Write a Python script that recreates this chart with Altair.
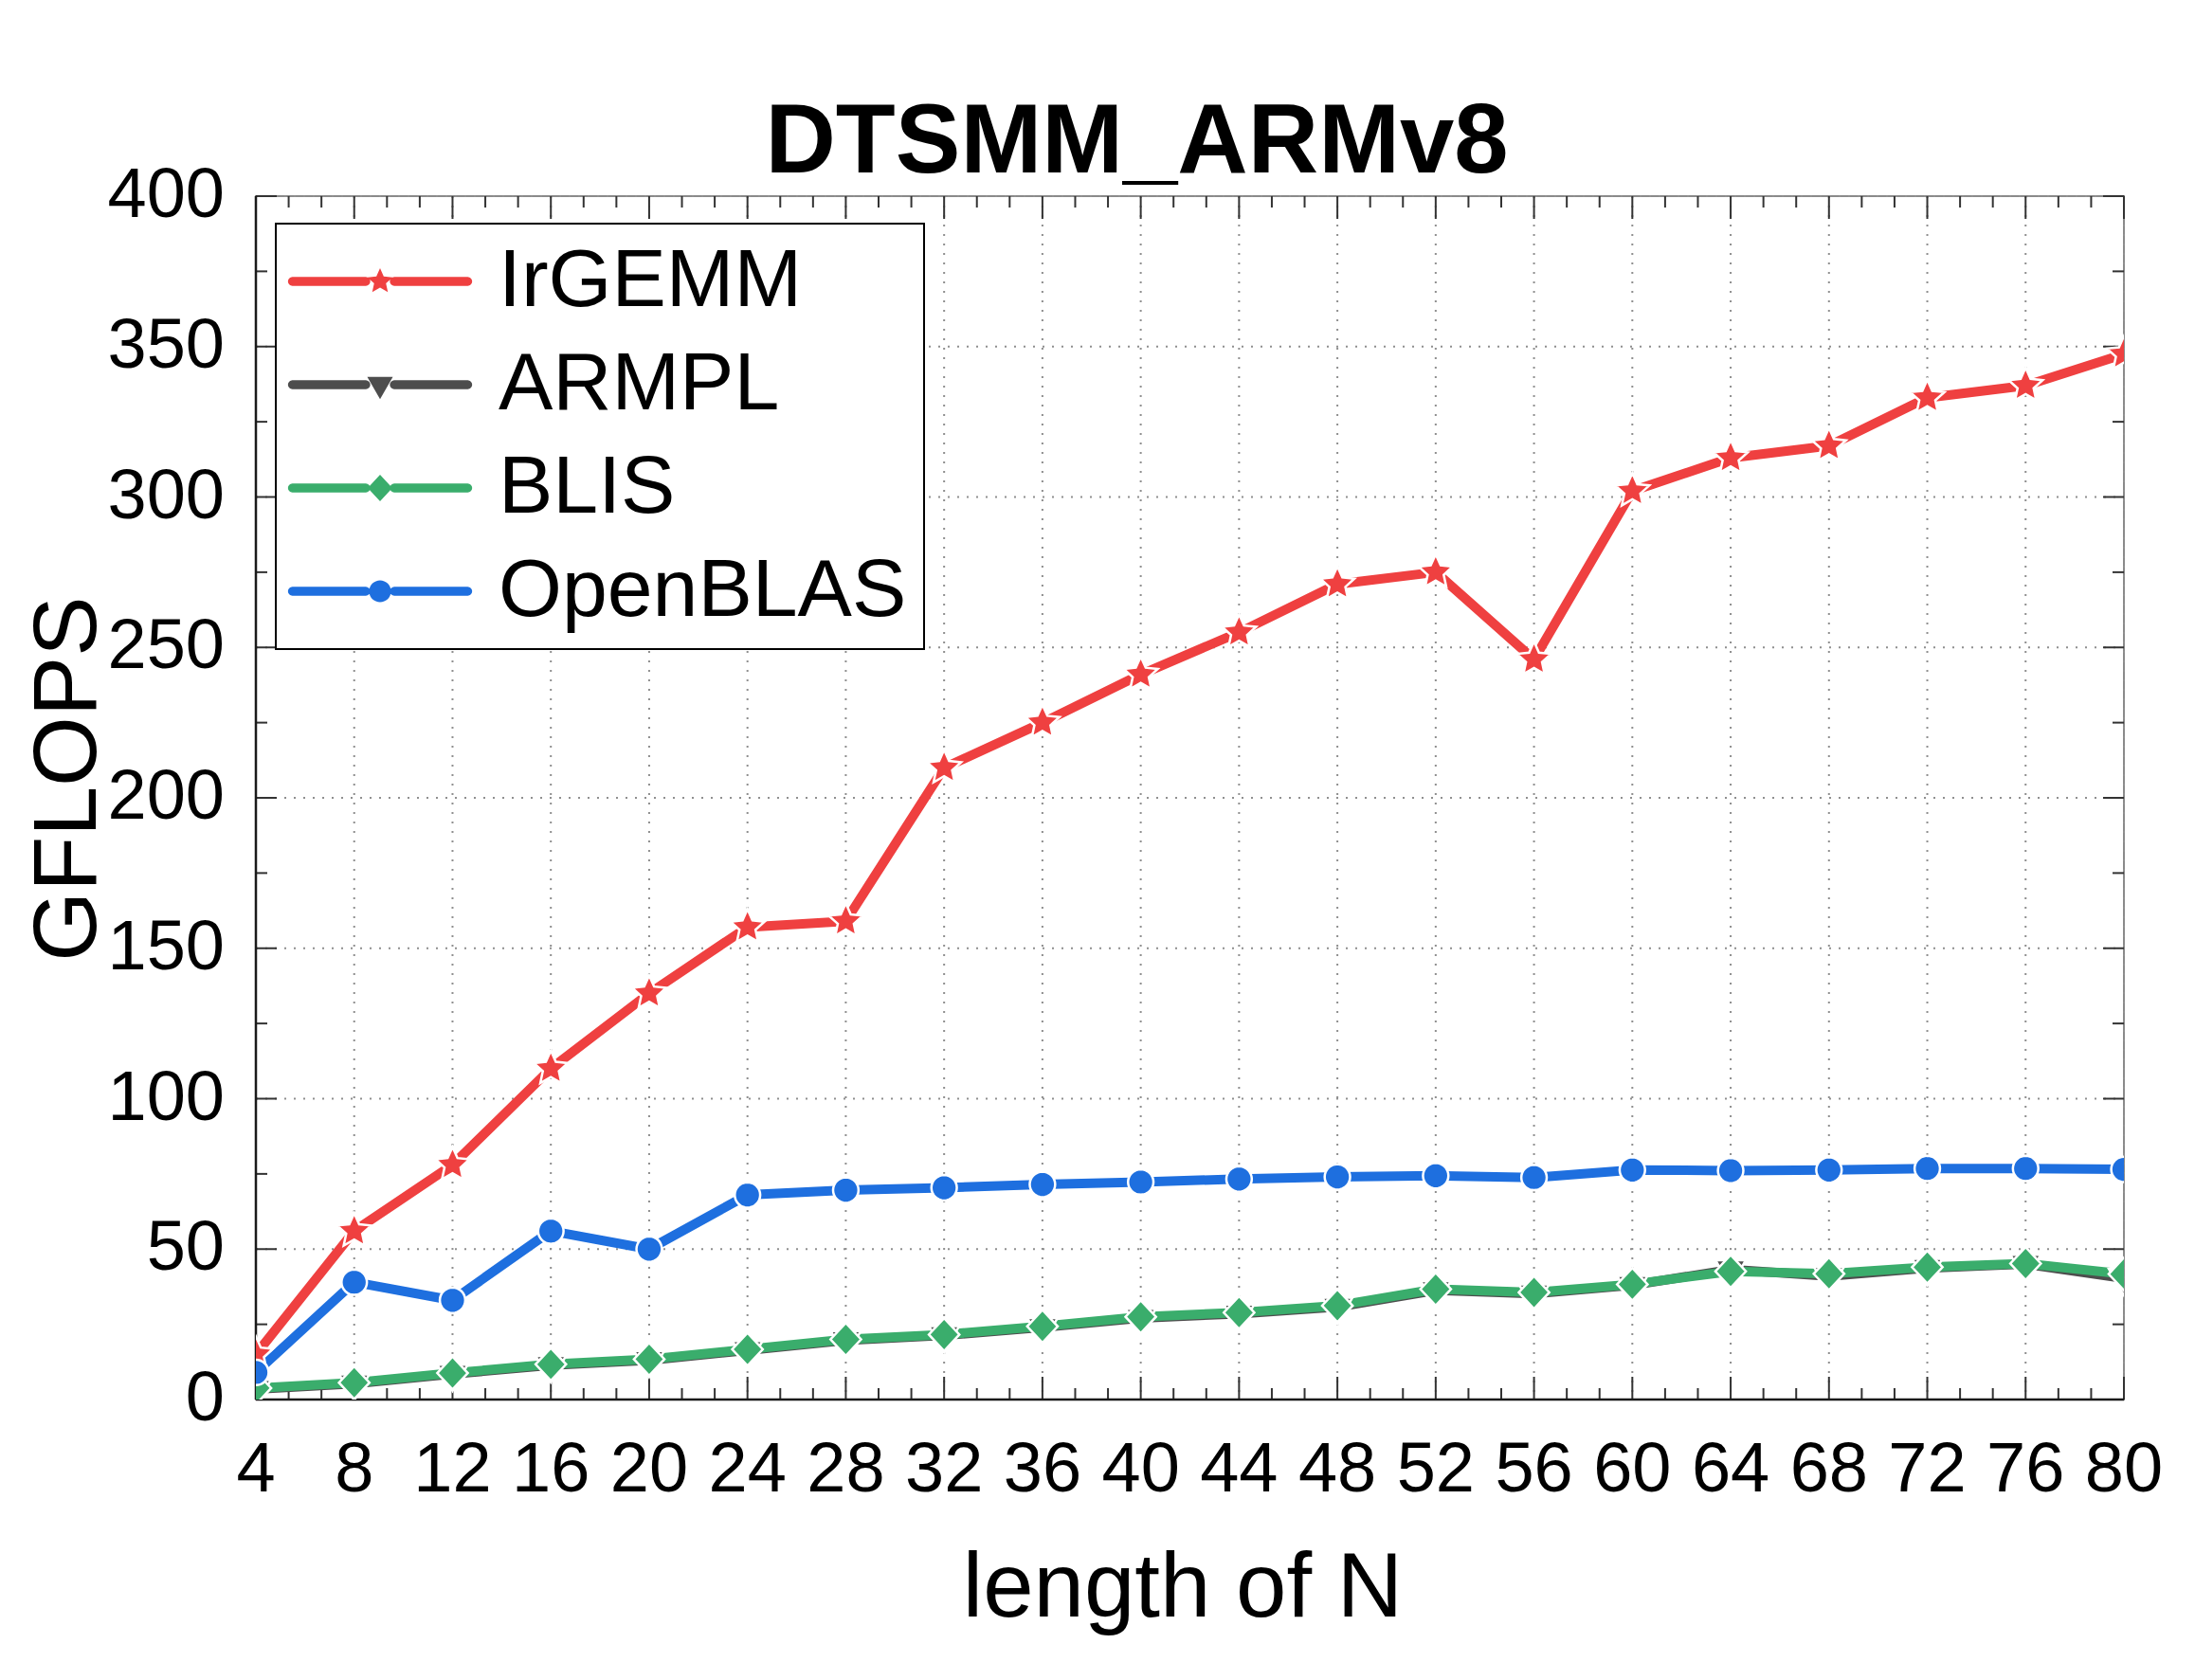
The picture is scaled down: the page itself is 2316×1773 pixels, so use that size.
import math

import altair as alt
import pandas as pd

# ---- measured data -------------------------------------------------------
N = [4, 8, 12, 16, 20, 24, 28, 32, 36, 40, 44, 48, 52, 56, 60, 64, 68, 72, 76, 80]
irgemm = [15, 56, 78, 110, 135, 157, 159, 210, 225, 241, 255, 271, 275, 246,
          302, 313, 317, 333, 337, 347.5]
armpl = [3.5, 5.3, 8.5, 11.4, 13.1, 16.4, 19.7, 21.3, 24.0, 27.1, 28.5, 30.8,
         36.3, 35.2, 38.0, 43.2, 41.0, 43.7, 45.0, 40.3]
blis = [3.8, 5.6, 8.8, 11.7, 13.4, 16.7, 20.0, 21.6, 24.3, 27.5, 28.9, 31.2,
        36.7, 35.6, 38.3, 42.6, 41.8, 44.0, 45.2, 41.7]
openblas = [9, 39, 33, 56, 50, 68, 69.6, 70.4, 71.5, 72.3, 73.3, 74.0, 74.4,
            73.8, 76.3, 76.1, 76.3, 76.8, 76.8, 76.5]

SERIES = ["IrGEMM", "ARMPL", "BLIS", "OpenBLAS"]
COLORS = ["#EF4040", "#4D4D4D", "#3AAD6C", "#1E6FDF"]
VALUES = [irgemm, armpl, blis, openblas]

x_major = N
x_minor = [4 + k * 4 / 3 for k in range(1, 58) if k % 3]
y_major = [0, 50, 100, 150, 200, 250, 300, 350, 400]
y_minor = [25, 75, 125, 175, 225, 275, 325, 375]

TITLE = "DTSMM_ARMv8"
X_TITLE = "length of N"
Y_TITLE = "GFLOPS"

rows = []
for name, vals in zip(SERIES, VALUES):
    for n, v in zip(N, vals):
        rows.append({"series": name, "N": n, "GFLOPS": v})
df = pd.DataFrame(rows)

# ---- marker geometry (pixels, centred on 0,0) ----------------------------
def star_pts(R, ratio=0.47):
    pts = []
    for k in range(10):
        r = R if k % 2 == 0 else R * ratio
        a = math.radians(-90 + 36 * k)
        pts.append((r * math.cos(a), r * math.sin(a)))
    return pts


def circle_pts(r, n=32):
    return [(r * math.cos(2 * math.pi * i / n), r * math.sin(2 * math.pi * i / n))
            for i in range(n)]


def bar_pts(x1, x2, h, n=8):
    pts = [(x1, -h), (x2, -h)]
    for i in range(1, n):
        a = math.radians(-90 + 180 * i / n)
        pts.append((x2 + h * math.cos(a), h * math.sin(a)))
    pts += [(x2, h), (x1, h)]
    for i in range(1, n):
        a = math.radians(90 + 180 * i / n)
        pts.append((x1 + h * math.cos(a), h * math.sin(a)))
    return pts


def path(pts, s):
    return "M" + "L".join(f"{x * s:.4f},{y * s:.4f}" for x, y in pts) + "Z"


# markers on the curves (a white outline is drawn round them)
PLOT_MARKERS = [
    star_pts(15.5),
    [(-13, -8), (13, -8), (0, 14.7)],
    [(0, -14.2), (13.2, 0), (0, 14.2), (-13.2, 0)],
    circle_pts(11),
]
# markers inside the legend
LEG_MARKERS = [
    star_pts(14.0),
    [(-13.5, -8.3), (13.5, -8.3), (0, 15.2)],
    [(0, -14.0), (13.0, 0), (0, 14.0), (-13.0, 0)],
    circle_pts(11.5),
]

PLOT_UNIT = 16.0
PLOT_SHAPES = [path(m, 1 / PLOT_UNIT) for m in PLOT_MARKERS]
PLOT_SIZE = (2 * PLOT_UNIT * 1.22) ** 2

# legend symbols: a line sample broken around the marker
LEG_UNIT = 20.0
LEG_SHAPES = [
    path(bar_pts(-92.5, -15, 4.7), 1 / LEG_UNIT)
    + path(bar_pts(15, 92.5, 4.7), 1 / LEG_UNIT)
    + path(m, 1 / LEG_UNIT)
    for m in LEG_MARKERS
]
LEG_SIZE = (2 * LEG_UNIT) ** 2

W, H = 1971, 1270
FONT = "Liberation Sans"
TICK = "#333333"
GRID = "#8f8f8f"
FRAME = "#1a1a1a"

xscale = alt.Scale(domain=[4, 80], nice=False, zero=False)
yscale = alt.Scale(domain=[0, 400], nice=False, zero=True)


def xpos(field):
    return alt.X(field, scale=xscale, axis=None)


def ypos(field):
    return alt.Y(field, scale=yscale, axis=None)


# ---- grid, frame and ticks ------------------------------------------------
xgrid = alt.Chart(pd.DataFrame({"v": x_major})).mark_rule(
    color=GRID, strokeWidth=2, strokeDash=[2, 8]
).encode(x=xpos("v:Q"), y=alt.value(0), y2=alt.value(H))

ygrid = alt.Chart(pd.DataFrame({"v": y_major})).mark_rule(
    color=GRID, strokeWidth=2, strokeDash=[2, 8]
).encode(y=ypos("v:Q"), x=alt.value(0), x2=alt.value(W))

frame_left = alt.Chart(pd.DataFrame({"v": [0]})).mark_rule(color=FRAME, strokeWidth=2.5).encode(
    x=alt.value(0), y=alt.value(0), y2=alt.value(H)
)
frame_bottom = alt.Chart(pd.DataFrame({"v": [0]})).mark_rule(color=FRAME, strokeWidth=2.5).encode(
    y=alt.value(H), x=alt.value(0), x2=alt.value(W)
)


def xticks(vals, y0, y1):
    d = pd.DataFrame({"v": vals})
    return alt.Chart(d).mark_rule(color=TICK, strokeWidth=2).encode(
        x=xpos("v:Q"), y=alt.value(y0), y2=alt.value(y1),
    )


def yticks(vals, x0, x1):
    d = pd.DataFrame({"v": vals})
    return alt.Chart(d).mark_rule(color=TICK, strokeWidth=2).encode(
        y=ypos("v:Q"), x=alt.value(x0), x2=alt.value(x1),
    )


tick_layers = [
    xticks(x_major, H, H - 24), xticks(x_minor, H, H - 12),
    xticks(x_major, 0, 24), xticks(x_minor, 0, 12),
    yticks(y_major, 0, 22), yticks(y_minor, 0, 12),
    yticks(y_major, W, W - 22), yticks(y_minor, W, W - 12),
]

# ---- tick labels and axis titles -----------------------------------------
xlabels = alt.Chart(pd.DataFrame({"v": x_major, "t": [str(v) for v in x_major]})).mark_text(
    font=FONT, fontSize=74, color="black", align="center", baseline="alphabetic"
).encode(x=xpos("v:Q"), y=alt.value(H + 97), text="t:N")

ylabels = alt.Chart(pd.DataFrame({"v": y_major, "t": [str(v) for v in y_major]})).mark_text(
    font=FONT, fontSize=74, color="black", align="right", baseline="middle"
).encode(y=ypos("v:Q"), x=alt.value(-33), text="t:N")

xtitle = alt.Chart(pd.DataFrame({"t": [X_TITLE]})).mark_text(
    font=FONT, fontSize=96, color="black", align="center", baseline="alphabetic"
).encode(x=alt.value(978), y=alt.value(H + 229), text="t:N")

ytitle = alt.Chart(pd.DataFrame({"t": [Y_TITLE]})).mark_text(
    font=FONT, fontSize=95, color="black", align="center", baseline="alphabetic", angle=270
).encode(x=alt.value(-169), y=alt.value(615), text="t:N")

# ---- data series -----------------------------------------------------------
base = alt.Chart(df)

lines = base.mark_line(strokeWidth=10, strokeCap="round", strokeJoin="round", clip=True).encode(
    x=xpos("N:Q"),
    y=ypos("GFLOPS:Q"),
    color=alt.Color("series:N", scale=alt.Scale(domain=SERIES, range=COLORS), legend=None),
)

points = base.mark_point(filled=True, opacity=1, stroke="white", strokeWidth=2.5, clip=True).encode(
    x=xpos("N:Q"),
    y=ypos("GFLOPS:Q"),
    color=alt.Color("series:N", scale=alt.Scale(domain=SERIES, range=COLORS), legend=None),
    shape=alt.Shape("series:N", scale=alt.Scale(domain=SERIES, range=PLOT_SHAPES), legend=None),
    size=alt.value(PLOT_SIZE),
)

leg = dict(
    title=None, orient="none", legendX=21, legendY=29, padding=18, rowPadding=23,
    labelFontSize=86, labelFont=FONT, labelColor="black",
    symbolOffset=49, labelOffset=82, labelLimit=1000,
    symbolSize=LEG_SIZE, symbolStrokeWidth=0, strokeColor="black", fillColor="white",
    zindex=1,
)

legend_layer = base.transform_filter("false").mark_point(filled=True, opacity=1).encode(
    x=xpos("N:Q"),
    y=ypos("GFLOPS:Q"),
    color=alt.Color("series:N", scale=alt.Scale(domain=SERIES, range=COLORS), legend=alt.Legend(**leg)),
    shape=alt.Shape("series:N", scale=alt.Scale(domain=SERIES, range=LEG_SHAPES), legend=alt.Legend(**leg)),
)

chart = (
    alt.layer(
        xgrid, ygrid, *tick_layers, frame_left, frame_bottom,
        lines, points, legend_layer,
        xlabels, ylabels, xtitle, ytitle,
    )
    .resolve_scale(color="independent", shape="independent")
    .properties(
        width=W, height=H,
        padding={"left": 270, "top": 207, "right": 75, "bottom": 296},
        autosize=alt.AutoSizeParams(type="none"),
        background="white",
        title=alt.TitleParams(
            TITLE, fontSize=103, fontWeight="bold", font=FONT, color="black",
            anchor="middle", frame="group", dx=-56, dy=139, offset=24, baseline="alphabetic",
        ),
    )
    .configure_view(stroke="#8a8a8a", strokeWidth=2)
    .configure_legend(strokeWidth=2)
)

chart.save("out.html", embed_options={"renderer": "svg", "actions": False})
